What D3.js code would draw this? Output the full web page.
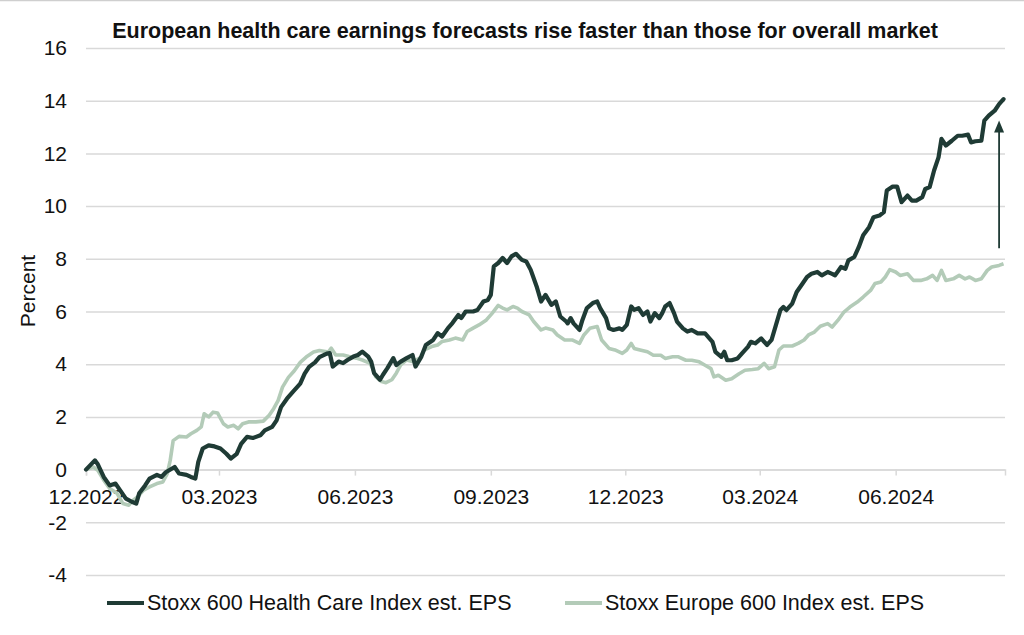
<!DOCTYPE html>
<html>
<head>
<meta charset="utf-8">
<script src="https://cdn.jsdelivr.net/npm/d3@7"></script>
<style>
  html, body { margin: 0; padding: 0; background: #fff; }
  svg { display: block; font-family: "Liberation Sans", Arial, sans-serif; }
</style>
</head>
<body>
<div id="chart"></div>
<script>
// Values (percent change of estimated EPS)
const healthCareEps = [
  ["2022-12-01", 0.0], ["2022-12-07", 0.35], ["2022-12-09", 0.2], ["2022-12-13", -0.28],
  ["2022-12-17", -0.6], ["2022-12-21", -0.53], ["2022-12-24", -0.78], ["2022-12-28", -1.1],
  ["2023-01-01", -1.22], ["2023-01-04", -1.29], ["2023-01-06", -0.9], ["2023-01-10", -0.6],
  ["2023-01-13", -0.34], ["2023-01-18", -0.2], ["2023-01-21", -0.28], ["2023-01-24", -0.1],
  ["2023-01-30", 0.1], ["2023-02-02", -0.15], ["2023-02-07", -0.2], ["2023-02-10", -0.28],
  ["2023-02-13", -0.34], ["2023-02-15", 0.29], ["2023-02-18", 0.8], ["2023-02-22", 0.92],
  ["2023-02-26", 0.88], ["2023-03-02", 0.8], ["2023-03-06", 0.6], ["2023-03-09", 0.42],
  ["2023-03-13", 0.6], ["2023-03-16", 0.98], ["2023-03-20", 1.24], ["2023-03-24", 1.2],
  ["2023-03-29", 1.3], ["2023-04-01", 1.49], ["2023-04-06", 1.62], ["2023-04-09", 1.87],
  ["2023-04-12", 2.37], ["2023-04-16", 2.69], ["2023-04-20", 2.95], ["2023-04-25", 3.26],
  ["2023-04-28", 3.64], ["2023-05-01", 3.9], ["2023-05-05", 4.07], ["2023-05-08", 4.27],
  ["2023-05-13", 4.4], ["2023-05-15", 4.42], ["2023-05-17", 3.91], ["2023-05-21", 4.1],
  ["2023-05-24", 4.04], ["2023-05-27", 4.16], ["2023-05-31", 4.29], ["2023-06-03", 4.35],
  ["2023-06-06", 4.48], ["2023-06-10", 4.29], ["2023-06-12", 4.1], ["2023-06-14", 3.66],
  ["2023-06-18", 3.41], ["2023-06-20", 3.6], ["2023-06-23", 3.85], ["2023-06-27", 4.23],
  ["2023-06-29", 3.97], ["2023-07-02", 4.1], ["2023-07-06", 4.23], ["2023-07-10", 4.35],
  ["2023-07-12", 3.91], ["2023-07-16", 4.29], ["2023-07-19", 4.73], ["2023-07-24", 4.92],
  ["2023-07-27", 5.18], ["2023-07-30", 5.05], ["2023-08-03", 5.37], ["2023-08-06", 5.56],
  ["2023-08-10", 5.87], ["2023-08-12", 5.75], ["2023-08-15", 6.0], ["2023-08-20", 6.0],
  ["2023-08-23", 6.06], ["2023-08-27", 6.38], ["2023-08-30", 6.44], ["2023-09-01", 6.63],
  ["2023-09-03", 7.71], ["2023-09-06", 7.84], ["2023-09-09", 8.03], ["2023-09-12", 7.84],
  ["2023-09-15", 8.09], ["2023-09-18", 8.19], ["2023-09-22", 7.96], ["2023-09-25", 7.9],
  ["2023-09-28", 7.58], ["2023-10-02", 6.95], ["2023-10-05", 6.38], ["2023-10-08", 6.63],
  ["2023-10-12", 6.25], ["2023-10-15", 6.38], ["2023-10-18", 5.81], ["2023-10-22", 5.62],
  ["2023-10-23", 5.55], ["2023-10-25", 5.75], ["2023-10-27", 5.55], ["2023-10-31", 5.3],
  ["2023-11-02", 5.68], ["2023-11-05", 6.13], ["2023-11-09", 6.32], ["2023-11-12", 6.38],
  ["2023-11-14", 6.13], ["2023-11-18", 5.75], ["2023-11-20", 5.36], ["2023-11-23", 5.3],
  ["2023-11-27", 5.36], ["2023-11-29", 5.3], ["2023-12-02", 5.49], ["2023-12-05", 6.19],
  ["2023-12-07", 6.06], ["2023-12-10", 6.13], ["2023-12-13", 5.87], ["2023-12-16", 6.0],
  ["2023-12-18", 5.62], ["2023-12-21", 5.94], ["2023-12-24", 5.75], ["2023-12-26", 5.94],
  ["2023-12-28", 6.19], ["2023-12-31", 6.32], ["2024-01-03", 5.94], ["2024-01-05", 5.62],
  ["2024-01-09", 5.36], ["2024-01-12", 5.24], ["2024-01-15", 5.3], ["2024-01-19", 5.17],
  ["2024-01-24", 5.17], ["2024-01-29", 4.85], ["2024-01-31", 4.47], ["2024-02-04", 4.28],
  ["2024-02-06", 4.47], ["2024-02-08", 4.15], ["2024-02-11", 4.15], ["2024-02-15", 4.22],
  ["2024-02-18", 4.41], ["2024-02-22", 4.66], ["2024-02-24", 4.85], ["2024-02-27", 4.79],
  ["2024-03-02", 4.98], ["2024-03-04", 4.85], ["2024-03-06", 4.73], ["2024-03-09", 4.92],
  ["2024-03-12", 5.49], ["2024-03-15", 6.06], ["2024-03-17", 6.17], ["2024-03-19", 6.05],
  ["2024-03-23", 6.3], ["2024-03-26", 6.74], ["2024-03-30", 7.06], ["2024-04-02", 7.31],
  ["2024-04-05", 7.43], ["2024-04-09", 7.5], ["2024-04-12", 7.37], ["2024-04-16", 7.5],
  ["2024-04-19", 7.43], ["2024-04-21", 7.37], ["2024-04-25", 7.69], ["2024-04-28", 7.62],
  ["2024-04-30", 7.94], ["2024-05-04", 8.07], ["2024-05-07", 8.44], ["2024-05-10", 8.89],
  ["2024-05-14", 9.2], ["2024-05-17", 9.58], ["2024-05-21", 9.64], ["2024-05-24", 9.77],
  ["2024-05-26", 10.59], ["2024-05-30", 10.74], ["2024-06-02", 10.74], ["2024-06-05", 10.15],
  ["2024-06-09", 10.4], ["2024-06-12", 10.21], ["2024-06-15", 10.21], ["2024-06-19", 10.34],
  ["2024-06-21", 10.65], ["2024-06-24", 10.72], ["2024-06-27", 11.35], ["2024-06-30", 11.85],
  ["2024-07-02", 12.55], ["2024-07-05", 12.3], ["2024-07-09", 12.48], ["2024-07-13", 12.67],
  ["2024-07-16", 12.67], ["2024-07-20", 12.71], ["2024-07-22", 12.42], ["2024-07-25", 12.46],
  ["2024-07-29", 12.48], ["2024-07-31", 13.24], ["2024-08-03", 13.43], ["2024-08-07", 13.62],
  ["2024-08-10", 13.87], ["2024-08-13", 14.06]
];

const europe600Eps = [
  ["2022-12-01", 0.0], ["2022-12-06", 0.1], ["2022-12-09", -0.03], ["2022-12-13", -0.4],
  ["2022-12-17", -0.72], ["2022-12-22", -0.9], ["2022-12-26", -1.29], ["2022-12-30", -1.35],
  ["2023-01-02", -1.16], ["2023-01-05", -1.03], ["2023-01-09", -0.78], ["2023-01-13", -0.66],
  ["2023-01-18", -0.53], ["2023-01-22", -0.47], ["2023-01-25", -0.15], ["2023-01-27", 0.35],
  ["2023-01-29", 1.1], ["2023-02-02", 1.26], ["2023-02-07", 1.24], ["2023-02-10", 1.36],
  ["2023-02-14", 1.49], ["2023-02-17", 1.62], ["2023-02-19", 2.12], ["2023-02-22", 2.0],
  ["2023-02-25", 2.18], ["2023-02-28", 2.15], ["2023-03-04", 1.74], ["2023-03-07", 1.62],
  ["2023-03-11", 1.68], ["2023-03-14", 1.55], ["2023-03-17", 1.74], ["2023-03-21", 1.81],
  ["2023-03-26", 1.81], ["2023-03-31", 1.84], ["2023-04-04", 2.06], ["2023-04-07", 2.31],
  ["2023-04-10", 2.62], ["2023-04-13", 3.13], ["2023-04-17", 3.5], ["2023-04-21", 3.75],
  ["2023-04-25", 4.07], ["2023-04-29", 4.27], ["2023-05-04", 4.46], ["2023-05-08", 4.52],
  ["2023-05-14", 4.46], ["2023-05-16", 4.61], ["2023-05-19", 4.35], ["2023-05-24", 4.35],
  ["2023-05-28", 4.29], ["2023-06-02", 4.23], ["2023-06-06", 4.16], ["2023-06-11", 4.04],
  ["2023-06-13", 3.85], ["2023-06-15", 3.53], ["2023-06-19", 3.34], ["2023-06-22", 3.3],
  ["2023-06-26", 3.41], ["2023-06-29", 3.66], ["2023-07-02", 3.97], ["2023-07-06", 4.16],
  ["2023-07-10", 4.1], ["2023-07-15", 4.23], ["2023-07-18", 4.54], ["2023-07-23", 4.67],
  ["2023-07-27", 4.73], ["2023-07-30", 4.86], ["2023-08-04", 4.92], ["2023-08-08", 4.99],
  ["2023-08-13", 4.92], ["2023-08-16", 5.24], ["2023-08-20", 5.37], ["2023-08-24", 5.49],
  ["2023-08-29", 5.68], ["2023-09-02", 5.94], ["2023-09-06", 6.23], ["2023-09-09", 6.13],
  ["2023-09-12", 6.06], ["2023-09-16", 6.19], ["2023-09-19", 6.13], ["2023-09-22", 6.0],
  ["2023-09-27", 5.87], ["2023-09-30", 5.62], ["2023-10-05", 5.3], ["2023-10-08", 5.37],
  ["2023-10-13", 5.3], ["2023-10-16", 5.11], ["2023-10-21", 4.92], ["2023-10-26", 4.92],
  ["2023-10-31", 4.79], ["2023-11-03", 5.11], ["2023-11-07", 5.36], ["2023-11-12", 5.43],
  ["2023-11-15", 4.92], ["2023-11-20", 4.6], ["2023-11-24", 4.54], ["2023-11-29", 4.41],
  ["2023-12-02", 4.54], ["2023-12-05", 4.79], ["2023-12-07", 4.6], ["2023-12-11", 4.54],
  ["2023-12-16", 4.47], ["2023-12-20", 4.34], ["2023-12-25", 4.34], ["2023-12-28", 4.22],
  ["2024-01-02", 4.28], ["2024-01-06", 4.28], ["2024-01-11", 4.15], ["2024-01-15", 4.15],
  ["2024-01-20", 4.09], ["2024-01-24", 3.96], ["2024-01-28", 3.83], ["2024-01-30", 3.52],
  ["2024-02-02", 3.58], ["2024-02-07", 3.39], ["2024-02-11", 3.45], ["2024-02-16", 3.64],
  ["2024-02-20", 3.77], ["2024-02-25", 3.8], ["2024-02-29", 3.83], ["2024-03-04", 4.03],
  ["2024-03-07", 3.83], ["2024-03-11", 3.9], ["2024-03-14", 4.54], ["2024-03-17", 4.69],
  ["2024-03-23", 4.69], ["2024-03-27", 4.79], ["2024-03-31", 4.92], ["2024-04-03", 5.11],
  ["2024-04-07", 5.22], ["2024-04-11", 5.44], ["2024-04-16", 5.54], ["2024-04-19", 5.41],
  ["2024-04-23", 5.67], ["2024-04-27", 5.98], ["2024-05-01", 6.17], ["2024-05-06", 6.36],
  ["2024-05-10", 6.55], ["2024-05-15", 6.8], ["2024-05-18", 7.06], ["2024-05-22", 7.12],
  ["2024-05-25", 7.31], ["2024-05-28", 7.59], ["2024-06-01", 7.5], ["2024-06-04", 7.37],
  ["2024-06-09", 7.43], ["2024-06-13", 7.18], ["2024-06-18", 7.18], ["2024-06-22", 7.24],
  ["2024-06-26", 7.37], ["2024-06-29", 7.18], ["2024-07-02", 7.56], ["2024-07-05", 7.18],
  ["2024-07-10", 7.24], ["2024-07-14", 7.37], ["2024-07-18", 7.24], ["2024-07-21", 7.31],
  ["2024-07-25", 7.18], ["2024-07-29", 7.24], ["2024-08-02", 7.56], ["2024-08-05", 7.69],
  ["2024-08-10", 7.75], ["2024-08-13", 7.81]
];

const seriesNames = ["Stoxx 600 Health Care Index est. EPS", "Stoxx Europe 600 Index est. EPS"];
const xTickDates = ["2022-12-01", "2023-03-01", "2023-06-01", "2023-09-01", "2023-12-01", "2024-03-01", "2024-06-01"];
const yTickValues = [-4, -2, 0, 2, 4, 6, 8, 10, 12, 14, 16];
const dateRange = ["2022-12-01", "2024-08-14"];

// Arrow annotation: date and the two percent levels it spans
const arrowDate = "2024-08-10";
const arrowFrom = 8.4;
const arrowTo = 13.25;

const titleText = "European health care earnings forecasts rise faster than those for overall market";

const parseDate = d3.timeParse("%Y-%m-%d");
const formatTick = d3.timeFormat("%m.%Y");

function renderChart() {
    const width = 1024;
    const height = 635;
    const margin = { top: 48, right: 19, bottom: 60, left: 86 };

    const darkColor = "#1f3b35";
    const lightColor = "#b3cbb8";
    const gridColor = "#d9d9d9";

    const svg = d3.select("#chart").append("svg")
        .attr("width", width)
        .attr("height", height);

    // thin border line along the top edge
    svg.append("line")
        .attr("x1", 0).attr("x2", width)
        .attr("y1", 0.5).attr("y2", 0.5)
        .attr("stroke", "#cfcfcf")
        .attr("stroke-width", 1.5);

    const xScale = d3.scaleTime()
        .domain(dateRange.map(parseDate))
        .range([margin.left, width - margin.right]);

    const yScale = d3.scaleLinear()
        .domain([-4, 16])
        .range([575, margin.top]);

    // horizontal gridlines + y labels (plain hyphen for negatives, like the original)
    const yAxis = d3.axisLeft(yScale)
        .tickValues(yTickValues)
        .tickSize(-(width - margin.right - margin.left))
        .tickPadding(19)
        .tickFormat(d => String(d));

    const yG = svg.append("g")
        .attr("transform", `translate(${margin.left},0)`)
        .call(yAxis);
    yG.select(".domain").remove();
    yG.selectAll(".tick line")
        .attr("stroke", gridColor)
        .attr("stroke-width", 1.5);
    yG.selectAll(".tick text")
        .attr("fill", "#111")
        .style("font-size", "21px")
        .style("font-family", "'Liberation Sans', Arial, sans-serif");

    // x axis sits on the zero line
    const xAxis = d3.axisBottom(xScale)
        .tickValues(xTickDates.map(parseDate))
        .tickSize(6)
        .tickPadding(13)
        .tickFormat(formatTick);

    const xG = svg.append("g")
        .attr("transform", `translate(0,${yScale(0)})`)
        .call(xAxis);
    xG.select(".domain")
        .attr("stroke", gridColor)
        .attr("stroke-width", 1.5);
    xG.selectAll(".tick line")
        .attr("stroke", gridColor)
        .attr("stroke-width", 1.5);
    xG.selectAll(".tick text")
        .attr("fill", "#111")
        .style("font-size", "21px")
        .style("font-family", "'Liberation Sans', Arial, sans-serif");

    const line = d3.line()
        .x(d => xScale(parseDate(d[0])))
        .y(d => yScale(d[1]));

    // market line first, health care drawn over it
    svg.append("path")
        .datum(europe600Eps)
        .attr("fill", "none")
        .attr("stroke", lightColor)
        .attr("stroke-width", 3.6)
        .attr("stroke-linejoin", "round")
        .attr("d", line);

    svg.append("path")
        .datum(healthCareEps)
        .attr("fill", "none")
        .attr("stroke", darkColor)
        .attr("stroke-width", 4.2)
        .attr("stroke-linejoin", "round")
        .attr("stroke-linecap", "round")
        .attr("d", line);

    // arrow showing the gap
    const ax = xScale(parseDate(arrowDate));
    const tipY = yScale(arrowTo);
    svg.append("line")
        .attr("x1", ax).attr("x2", ax)
        .attr("y1", yScale(arrowFrom))
        .attr("y2", tipY + 10)
        .attr("stroke", darkColor)
        .attr("stroke-width", 1.8);
    svg.append("path")
        .attr("d", `M${ax},${tipY} L${ax - 5},${tipY + 12} L${ax + 5},${tipY + 12} Z`)
        .attr("fill", darkColor);

    // title
    svg.append("text")
        .attr("x", 525)
        .attr("y", 38)
        .style("text-anchor", "middle")
        .style("font-weight", "bold")
        .style("font-size", "21.5px")
        .attr("fill", "#111")
        .text(titleText);

    // y axis label
    svg.append("text")
        .attr("transform", "translate(35,291) rotate(-90)")
        .style("text-anchor", "middle")
        .style("font-size", "21px")
        .attr("fill", "#111")
        .text("Percent");

    // legend
    const legendItems = [
        { name: seriesNames[0], color: darkColor, x: 107 },
        { name: seriesNames[1], color: lightColor, x: 565 }
    ];
    const legend = svg.selectAll(".legend")
        .data(legendItems)
        .enter()
        .append("g")
        .attr("class", "legend")
        .attr("transform", d => `translate(${d.x},603)`);

    legend.append("line")
        .attr("x1", 0).attr("x2", 37)
        .attr("y1", 0).attr("y2", 0)
        .attr("stroke", d => d.color)
        .attr("stroke-width", 4);

    legend.append("text")
        .attr("x", 40)
        .attr("y", 7)
        .style("font-size", "21.5px")
        .attr("fill", "#111")
        .text(d => d.name);
}

window.onload = renderChart;
</script>
</body>
</html>
